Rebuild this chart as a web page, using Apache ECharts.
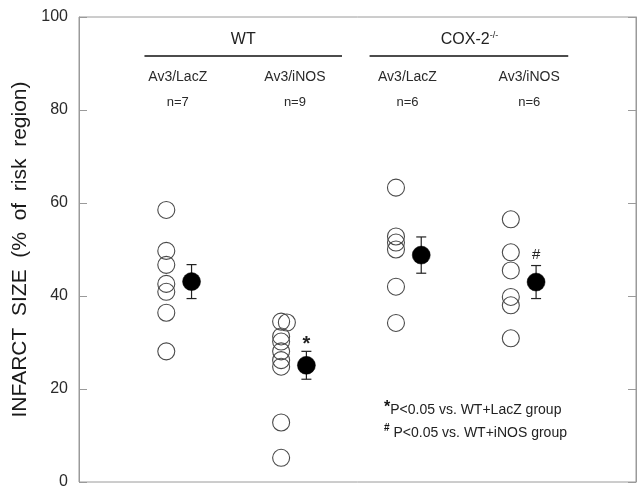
<!DOCTYPE html>
<html><head><meta charset="utf-8">
<script src="https://cdn.jsdelivr.net/npm/echarts@6/dist/echarts.min.js"></script>
<style>html,body{margin:0;padding:0;background:#fff}#c{width:638px;height:490px}</style>
</head><body><div id="c"></div>
<script>
// ---- data ----
const groupNames = ['Av3/LacZ', 'Av3/iNOS', 'Av3/LacZ', 'Av3/iNOS'];
const groupN = ['n=7', 'n=9', 'n=6', 'n=6'];
const wtLacZ = [58.5, 49.7, 46.7, 42.6, 40.9, 36.4, 28.1];
const wtINOS = [34.5, 34.3, 31.3, 30.2, 28.1, 26.2, 24.8, 12.8, 5.2];
const coxLacZ = [63.3, 52.8, 51.5, 50.0, 42.0, 34.2];
const coxINOS = [56.5, 49.4, 45.5, 39.8, 38.0, 30.9];
const wtINOSJitter = [0, 0.05, 0, 0, 0, 0, 0, 0, 0];
const meanVals = [43.1, 25.1, 48.8, 43.0];
const seVals = [3.65, 3.0, 3.9, 3.55];
const yTicks = [0, 20, 40, 60, 80, 100];
const markText = ['', '*', '', '#'];
const markVals = [null, 29.6, null, 48.8];

const groups = [wtLacZ, wtINOS, coxLacZ, coxINOS];
const jitters = [null, wtINOSJitter, null, null];
const meanOffset = 0.22;

const openPts = [];
groups.forEach((arr, gi) => arr.forEach((v, i) => {
  openPts.push([gi + 1 + (jitters[gi] ? jitters[gi][i] : 0), v]);
}));
const meanPts = meanVals.map((m, i) => [i + 1 + meanOffset, m, seVals[i]]);

const chart = echarts.init(document.getElementById('c'));
const FONT = 'Liberation Sans, Arial, sans-serif';
chart.setOption({
  animation: false,
  backgroundColor: '#fff',
  grid: { left: 79, right: 2, top: 17, bottom: 3, show: true, borderColor: '#9a9a9a', borderWidth: 1 },
  xAxis: { type: 'value', min: 0.24, max: 5.09, show: false },
  yAxis: [{
    type: 'value', min: yTicks[0], max: yTicks[yTicks.length - 1], interval: 20,
    name: 'INFARCT  SIZE  (%  of  risk  region)', nameLocation: 'middle', nameGap: 33,
    nameTextStyle: { fontFamily: FONT, fontSize: 21, color: '#1a1a1a' },
    axisLine: { show: true, lineStyle: { color: '#9a9a9a' } },
    axisTick: { show: true, inside: true, length: 8, lineStyle: { color: '#9a9a9a' } },
    axisLabel: { fontFamily: FONT, fontSize: 16, color: '#2a2a2a', margin: 11 },
    splitLine: { show: false }
  }, {
    type: 'value', min: 0, max: 100, interval: 20, position: 'right',
    axisLine: { show: true, lineStyle: { color: '#9a9a9a' } },
    axisTick: { show: true, inside: true, length: 8, lineStyle: { color: '#9a9a9a' } },
    axisLabel: { show: false }, splitLine: { show: false }
  }],
  series: [
    { type: 'scatter', data: openPts, symbol: 'circle', symbolSize: 17,
      itemStyle: { color: 'rgba(255,255,255,0)', borderColor: '#4a4a4a', borderWidth: 1.1, opacity: 1 }, z: 3 },
    { type: 'custom', data: meanPts, z: 4,
      renderItem: function (params, api) {
        const x = api.value(0), m = api.value(1), se = api.value(2);
        const top = api.coord([x, m + se]), bot = api.coord([x, m - se]);
        const hw = 5;
        return { type: 'group', children: [
          { type: 'line', shape: { x1: top[0], y1: top[1], x2: bot[0], y2: bot[1] }, style: { stroke: '#222', lineWidth: 1.2 } },
          { type: 'line', shape: { x1: top[0] - hw, y1: top[1], x2: top[0] + hw, y2: top[1] }, style: { stroke: '#222', lineWidth: 1.2 } },
          { type: 'line', shape: { x1: bot[0] - hw, y1: bot[1], x2: bot[0] + hw, y2: bot[1] }, style: { stroke: '#222', lineWidth: 1.2 } }
        ]};
      }
    },
    { type: 'scatter', data: meanPts.map(p => [p[0], p[1]]), symbol: 'circle', symbolSize: 18,
      itemStyle: { color: '#000', borderColor: '#000', borderWidth: 0.5, opacity: 1 }, z: 5 }
  ]
});

// annotations positioned via the chart's scales
function px(x, y) { return chart.convertToPixel({ gridIndex: 0 }, [x, y]); }
const g = [];
const txt = (x, y, text, size, extra) => Object.assign({ type: 'text', x: x, y: y,
  style: Object.assign({ text: text, fontFamily: FONT, fontSize: size, fill: '#222', align: 'center', verticalAlign: 'middle' }, extra || {}) });
// headers
const hdrY = 40, lineY = 56, labY = 77, nY = 102;
g.push(txt(px(1.67, 0)[0], hdrY, 'WT', 16));
g.push({ type: 'line', shape: { x1: px(0.81, 0)[0], y1: lineY, x2: px(2.53, 0)[0], y2: lineY }, style: { stroke: '#111', lineWidth: 1.3 } });
g.push({ type: 'line', shape: { x1: px(2.77, 0)[0], y1: lineY, x2: px(4.5, 0)[0], y2: lineY }, style: { stroke: '#111', lineWidth: 1.3 } });
g.push({ type: 'text', x: px(3.64, 0)[0], y: hdrY, style: {
  text: '{a|COX-2}{s|-/-}', align: 'center', verticalAlign: 'middle',
  rich: { a: { fontFamily: FONT, fontSize: 16, fill: '#222', lineHeight: 18 },
          s: { fontFamily: FONT, fontSize: 9, fill: '#222', verticalAlign: 'top', lineHeight: 18 } } } });
const labOff = [0.1, 0.12, 0.1, 0.16];
groupNames.forEach((n, i) => {
  const x = px(i + 1 + labOff[i], 0)[0];
  g.push(txt(x, labY, n, 14, { fill: '#2a2a2a' }));
  g.push(txt(x, nY, groupN[i], 13, { fill: '#2a2a2a' }));
});
markText.forEach((t, i) => {
  if (!t) return;
  const p = px(i + 1 + meanOffset, markVals[i]);
  g.push(txt(p[0], p[1], t, t === '*' ? 20 : 15, t === '*' ? { fontWeight: 'bold' } : {}));
});
// footnotes
const fx = 384;
g.push({ type: 'text', x: fx, y: 410, style: { text: '{s|*}{t|P<0.05 vs. WT+LacZ group}', align: 'left', verticalAlign: 'middle',
  rich: { s: { fontFamily: FONT, fontSize: 16, fontWeight: 'bold', fill: '#111', verticalAlign: 'top', lineHeight: 20 },
          t: { fontFamily: FONT, fontSize: 14, fill: '#222', lineHeight: 20 } } } });
g.push({ type: 'text', x: fx, y: 433, style: { text: '{s|#}{t| P<0.05 vs. WT+iNOS group}', align: 'left', verticalAlign: 'middle',
  rich: { s: { fontFamily: FONT, fontSize: 10, fontWeight: 'bold', fill: '#111', verticalAlign: 'top', lineHeight: 20 },
          t: { fontFamily: FONT, fontSize: 14, fill: '#222', lineHeight: 20 } } } });
chart.setOption({ graphic: g });
</script></body></html>
